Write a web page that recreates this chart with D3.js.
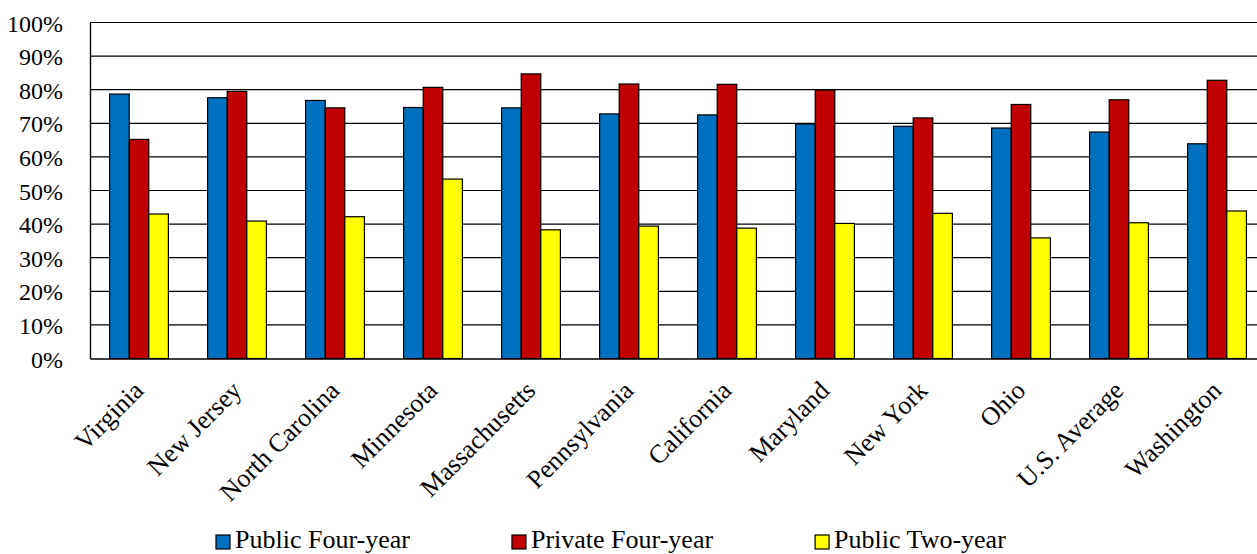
<!DOCTYPE html>
<html>
<head>
<meta charset="utf-8">
<script src="https://cdn.jsdelivr.net/npm/d3@7"></script>
<style>
  html, body { margin: 0; padding: 0; background: #fff; }
  svg { display: block; }
  text { font-family: "Liberation Serif", "Times New Roman", serif; fill: #000; }
</style>
</head>
<body>
<svg id="chart" width="1257" height="554"></svg>
<script>
// Share of students by state and institution type
const categories = ["Virginia", "New Jersey", "North Carolina", "Minnesota", "Massachusetts",
  "Pennsylvania", "California", "Maryland", "New York", "Ohio", "U.S. Average", "Washington"];
const seriesNames = ["Public Four-year", "Private Four-year", "Public Two-year"];
const publicFourYear  = [0.787, 0.776, 0.768, 0.747, 0.746, 0.728, 0.725, 0.698, 0.691, 0.686, 0.674, 0.639];
const privateFourYear = [0.652, 0.795, 0.746, 0.807, 0.847, 0.817, 0.816, 0.799, 0.716, 0.756, 0.770, 0.828];
const publicTwoYear   = [0.430, 0.409, 0.422, 0.534, 0.383, 0.394, 0.388, 0.402, 0.432, 0.359, 0.404, 0.439];
const yTicks = [0, 0.1, 0.2, 0.3, 0.4, 0.5, 0.6, 0.7, 0.8, 0.9, 1.0];
const seriesColors = ["#0070C0", "#C00000", "#FFFF00"];

const seriesValues = [publicFourYear, privateFourYear, publicTwoYear];

const svg = d3.select("#chart");
const plot = { left: 90, right: 1266, top: 22.5, bottom: 358.5 };

const x0 = d3.scaleBand()
  .domain(categories)
  .range([plot.left, plot.right])
  .paddingInner(0.4)
  .paddingOuter(0.2);

const x1 = d3.scaleBand()
  .domain(seriesNames)
  .range([0, x0.bandwidth()])
  .padding(0);

const y = d3.scaleLinear().domain([0, 1]).range([plot.bottom, plot.top]);

const color = d3.scaleOrdinal().domain(seriesNames).range(seriesColors);

// Horizontal gridlines
svg.append("g")
  .selectAll("line")
  .data(yTicks.filter(t => t > 0))
  .join("line")
  .attr("x1", plot.left)
  .attr("x2", plot.right)
  .attr("y1", d => y(d))
  .attr("y2", d => y(d))
  .attr("stroke", "#000")
  .attr("stroke-width", 1.2);

// Y axis with percentage labels
const yAxis = svg.append("g")
  .attr("transform", `translate(${plot.left},0)`)
  .call(d3.axisLeft(y).tickValues(yTicks).tickFormat(d3.format(".0%")).tickSize(0).tickPadding(27));
yAxis.select(".domain").attr("stroke", "#000").attr("stroke-width", 1.4);
yAxis.selectAll("text")
  .style("font-family", "'Liberation Serif', 'Times New Roman', serif")
  .style("font-size", "24px")
  .attr("dy", "0.36em");

// Bars
const groups = svg.append("g")
  .selectAll("g")
  .data(categories)
  .join("g")
  .attr("transform", d => `translate(${x0(d)},0)`);

groups.selectAll("rect")
  .data((c, ci) => seriesNames.map((s, si) => ({ series: s, value: seriesValues[si][ci] })))
  .join("rect")
  .attr("x", d => x1(d.series))
  .attr("width", x1.bandwidth())
  .attr("y", d => y(d.value))
  .attr("height", d => y(0) - y(d.value))
  .attr("fill", d => color(d.series))
  .attr("stroke", "#000")
  .attr("stroke-width", 1.2);

// X axis baseline
const xAxis = svg.append("g")
  .attr("transform", `translate(0,${plot.bottom})`)
  .call(d3.axisBottom(x0).tickSize(0).tickFormat(""));
xAxis.select(".domain").attr("stroke", "#000").attr("stroke-width", 1.6);

// Rotated category labels
svg.append("g")
  .selectAll("text")
  .data(categories)
  .join("text")
  .attr("transform", d => `translate(${x0(d) + x0.bandwidth() / 2 + 6},392) rotate(-45)`)
  .attr("text-anchor", "end")
  .style("font-size", "26px")
  .text(d => d);

// Legend
const legend = svg.append("g").attr("transform", "translate(216,535)");
let cursor = 0;
seriesNames.forEach((name, i) => {
  const item = legend.append("g").attr("transform", `translate(${cursor},0)`);
  item.append("rect")
    .attr("width", 14).attr("height", 14)
    .attr("fill", seriesColors[i])
    .attr("stroke", "#000").attr("stroke-width", 1.2);
  const t = item.append("text")
    .attr("x", 19).attr("y", 13)
    .style("font-size", "26px")
    .text(name);
  cursor += 19 + t.node().getComputedTextLength() + 102;
});
</script>
</body>
</html>
